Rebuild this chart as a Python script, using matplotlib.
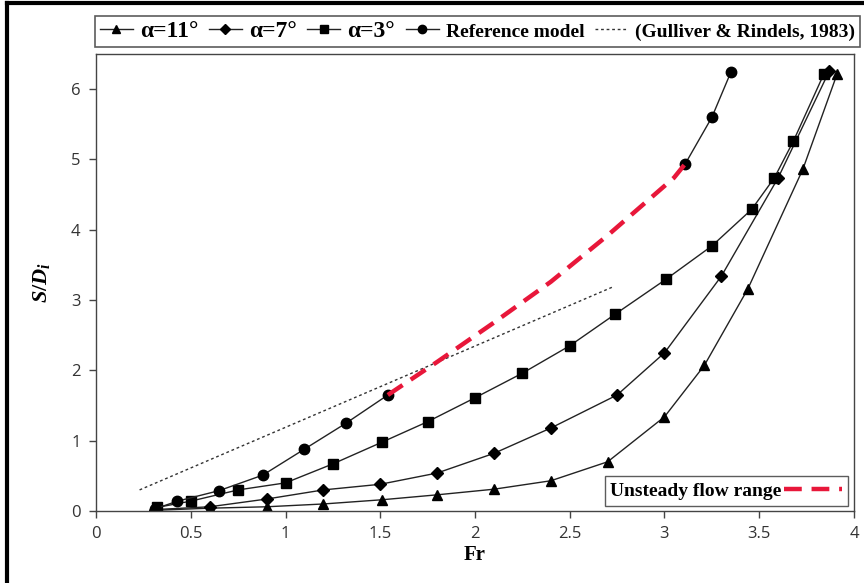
import numpy as np
import matplotlib.pyplot as plt
from matplotlib.lines import Line2D

# Data
fr_11 = [0.31, 0.60, 0.90, 1.20, 1.51, 1.80, 2.10, 2.40, 2.70, 3.00, 3.21, 3.44, 3.73, 3.91]
sd_11 = [0.01, 0.04, 0.06, 0.10, 0.16, 0.23, 0.31, 0.43, 0.70, 1.34, 2.07, 3.16, 4.86, 6.21]

fr_7 = [0.31, 0.60, 0.90, 1.20, 1.50, 1.80, 2.10, 2.40, 2.75, 3.00, 3.30, 3.60, 3.87]
sd_7 = [0.02, 0.06, 0.17, 0.30, 0.38, 0.54, 0.82, 1.18, 1.65, 2.25, 3.34, 4.74, 6.26]

fr_3 = [0.32, 0.50, 0.75, 1.00, 1.25, 1.51, 1.75, 2.00, 2.25, 2.50, 2.74, 3.01, 3.25, 3.46, 3.58, 3.68, 3.84]
sd_3 = [0.05, 0.14, 0.30, 0.40, 0.67, 0.98, 1.27, 1.61, 1.96, 2.35, 2.80, 3.30, 3.77, 4.29, 4.74, 5.26, 6.21]

fr_ref = [0.31, 0.43, 0.65, 0.88, 1.10, 1.32, 1.54, 3.11, 3.25, 3.35]
sd_ref = [0.03, 0.14, 0.29, 0.51, 0.88, 1.25, 1.65, 4.94, 5.60, 6.24]

fr_unsteady = [1.54, 1.80, 2.10, 2.40, 2.70, 3.05, 3.11]
sd_unsteady = [1.65, 2.12, 2.68, 3.26, 3.92, 4.74, 4.94]

fr_gull = [0.23, 2.73]
sd_gull = [0.30, 3.19]

serif = "Liberation Serif"
plt.rcParams["mathtext.fontset"] = "custom"
plt.rcParams["mathtext.it"] = "Liberation Serif:italic:bold"
plt.rcParams["mathtext.rm"] = "Liberation Serif:bold"

fig = plt.figure(figsize=(8.64, 5.83), dpi=100)
ax = fig.add_axes([96 / 864, 1 - 511 / 583, (854 - 96) / 864, (511 - 54) / 583])

line_kw = dict(color="#222222", lw=1.0, markerfacecolor="black", markeredgecolor="black")
h11, = ax.plot(fr_11, sd_11, marker="^", ms=7.5, **line_kw)
h7, = ax.plot(fr_7, sd_7, marker="D", ms=6, **line_kw)
h3, = ax.plot(fr_3, sd_3, marker="s", ms=7.5, **line_kw)
# reference model: two separate pieces, the gap is the unsteady range
ax.plot(fr_ref[:7], sd_ref[:7], marker="o", ms=7.5, **line_kw)
ax.plot(fr_ref[7:], sd_ref[7:], marker="o", ms=7.5, **line_kw)
hg, = ax.plot(fr_gull, sd_gull, color="#333333", lw=1.0, ls=(0, (2, 2)))
hu, = ax.plot(fr_unsteady, sd_unsteady, color="#e8173a", lw=3.2, ls=(0, (4, 2.2)))
href = Line2D([], [], marker="o", ms=6, **line_kw)
h11l = Line2D([], [], marker="^", ms=6, **line_kw)
h7l = Line2D([], [], marker="D", ms=5, **line_kw)
h3l = Line2D([], [], marker="s", ms=6, **line_kw)

ax.set_xlim(0, 4)
ax.set_ylim(0, 6.5)
ax.set_xticks(np.arange(0, 4.01, 0.5))
ax.set_xticklabels(["0", "0.5", "1", "1.5", "2", "2.5", "3", "3.5", "4"])
ax.set_yticks(range(0, 7))
ax.tick_params(direction="out", length=5, width=1, color="#444444",
               labelsize=12, labelcolor="#333333", pad=6)
for lab in ax.get_xticklabels() + ax.get_yticklabels():
    lab.set_family("Open Sans")
for s in ax.spines.values():
    s.set_color("#444444")
    s.set_linewidth(1.0)

ax.set_xlabel("Fr", family=serif, fontweight="bold", fontsize=15, labelpad=2)
ax.set_ylabel("$S/D_i$", fontsize=16, labelpad=14)

leg1 = fig.legend([h11l, h7l, h3l, href, hg],
                  ["α=11°", "α=7°", "α=3°", "Reference model", "(Gulliver & Rindels, 1983)"],
                  loc="upper left", bbox_to_anchor=(95 / 864, 1 - 16 / 583, (860 - 95) / 864, 0),
                  ncol=5, mode="expand", frameon=True, fancybox=False, edgecolor="#333333",
                  handlelength=1.4, handletextpad=0.3, columnspacing=0.3, borderpad=0.2,
                  borderaxespad=0, prop={"family": serif, "weight": "bold", "size": 17})
leg1.get_frame().set_linewidth(1.2)
for t in leg1.get_texts()[3:]:
    t.set_fontsize(14)

leg2 = ax.legend([hu], ["Unsteady flow range"], loc="lower right",
                 bbox_to_anchor=(0.992, 0.012), frameon=True, fancybox=False,
                 edgecolor="#333333", handlelength=3.0, handletextpad=0.1,
                 markerfirst=False, borderpad=0.3, borderaxespad=0,
                 prop={"family": serif, "weight": "bold", "size": 14})
leg2.get_frame().set_linewidth(1.0)

# outer frame of the original picture
fig.add_artist(Line2D([7 / 864, 7 / 864], [0, 1 - 3 / 583], transform=fig.transFigure, color="black", lw=3))
fig.add_artist(Line2D([7 / 864, 1], [1 - 3 / 583, 1 - 3 / 583], transform=fig.transFigure, color="black", lw=3))

fig.savefig("out.png", dpi=100)
